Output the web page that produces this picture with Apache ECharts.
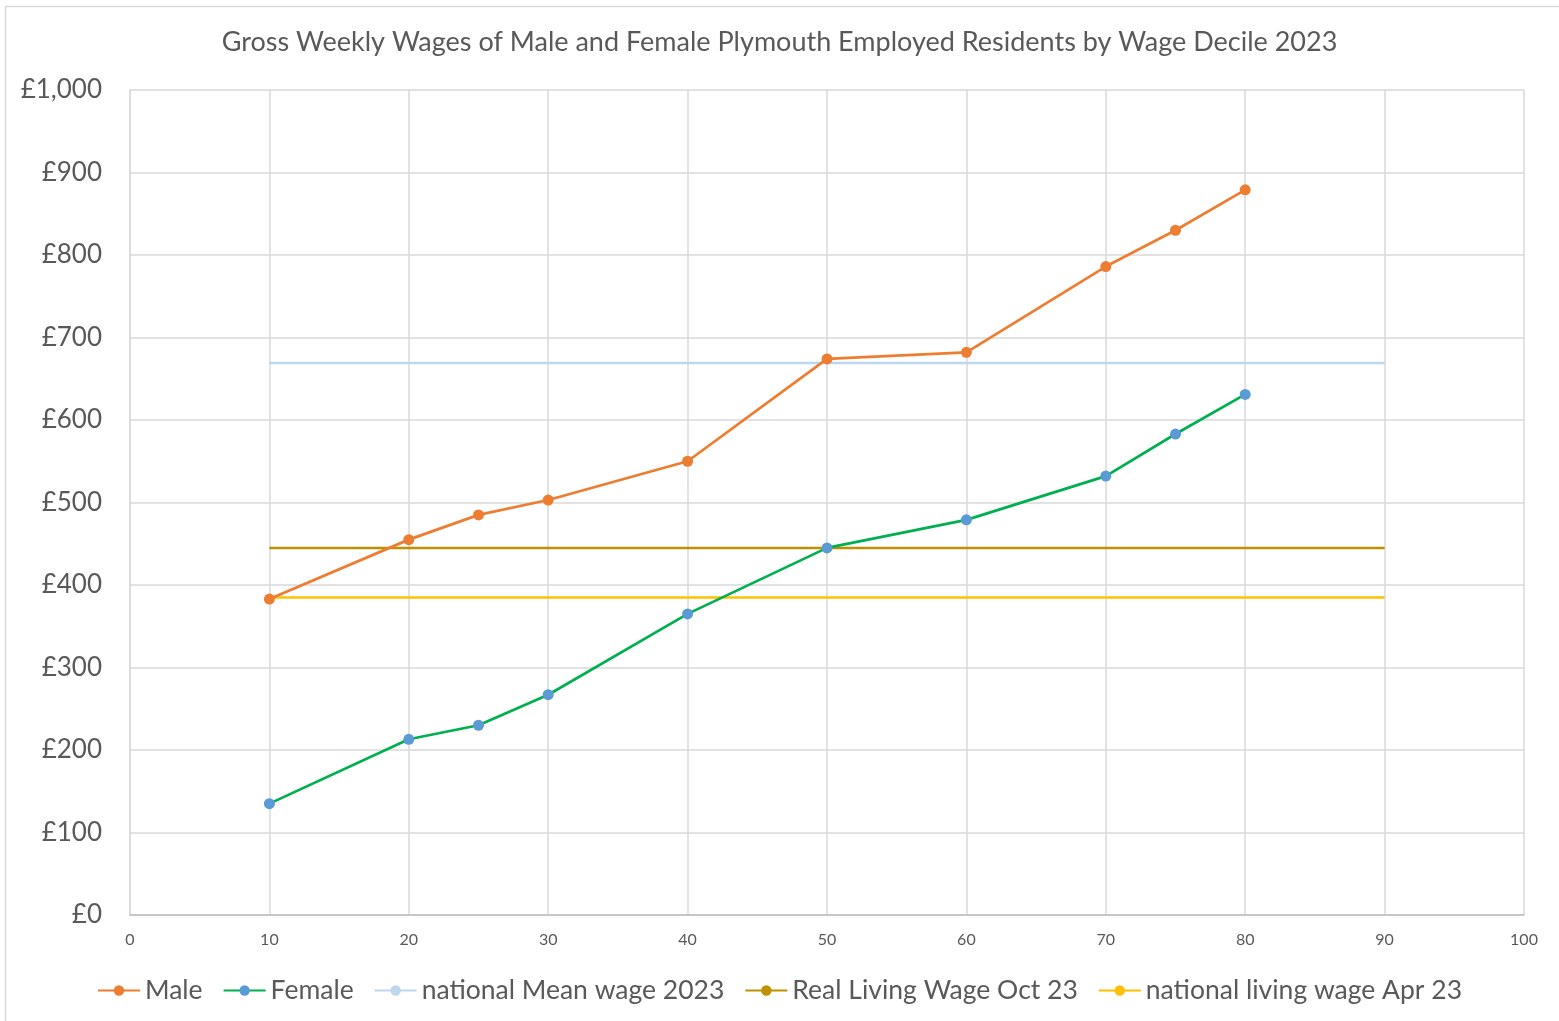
<!DOCTYPE html>
<html>
<head>
<meta charset="utf-8">
<script src="https://cdn.jsdelivr.net/npm/echarts@6/dist/echarts.min.js"></script>
<style>
html, body { margin: 0; padding: 0; background: #fff; }
#myChart { width: 1559px; height: 1021px; }
</style>
</head>
<body>
<div id="myChart"></div>
<script>
// deciles (x positions)
var deciles = [10, 20, 25, 30, 40, 50, 60, 70, 75, 80];
var maleWage = [383, 455, 485, 503, 550, 674, 682, 786, 830, 879];
var femaleWage = [135, 213, 230, 267, 365, 445, 479, 532, 583, 631];
// reference lines run from 10 to 90
var refSpan = [10, 90];
var nationalMean = 669;
var realLivingWage = 445;
var nationalLivingWage = 385;

function pairs(xs, ys) {
  return xs.map(function (x, i) { return [x, ys[i]]; });
}
function flat(v) {
  return refSpan.map(function (x) { return [x, v]; });
}

var font = 'Lato, "Open Sans", sans-serif';

var option = {
  animation: false,
  backgroundColor: '#fff',
  textStyle: { fontFamily: font },
  title: {
    text: 'Gross Weekly Wages of Male and Female Plymouth Employed Residents by Wage Decile 2023',
    left: 'center',
    top: 24,
    textStyle: { fontFamily: font, fontSize: 27, fontWeight: 'normal', color: '#595959' }
  },
  graphic: [{
    type: 'rect',
    shape: { x: 5.5, y: 6.5, width: 1560, height: 1030 },
    style: { fill: null, stroke: '#d9d9d9', lineWidth: 1.5 },
    silent: true
  }],
  grid: { left: 130, right: 35, top: 90, bottom: 106 },
  legend: {
    bottom: 12,
    left: 'center',
    itemWidth: 42,
    itemHeight: 13,
    itemGap: 20,
    textStyle: { fontFamily: font, fontSize: 26.5, color: '#595959' },
    data: ['Male', 'Female', 'national Mean wage 2023', 'Real Living Wage Oct 23', 'national living wage Apr 23']
  },
  xAxis: {
    type: 'value',
    min: 0, max: 100, interval: 10,
    axisLine: { show: true, lineStyle: { color: '#bfbfbf', width: 1.5 } },
    axisTick: { show: false },
    axisLabel: { color: '#595959', fontSize: 16, margin: 17 },
    splitLine: { show: true, lineStyle: { color: '#d9d9d9', width: 1.5 } }
  },
  yAxis: {
    type: 'value',
    min: 0, max: 1000, interval: 100,
    axisLine: { show: true, lineStyle: { color: '#d9d9d9', width: 1.5 } },
    axisTick: { show: false },
    axisLabel: {
      color: '#595959', fontSize: 26, margin: 28,
      formatter: function (v) { return '£' + v.toLocaleString('en-GB'); }
    },
    splitLine: { show: true, lineStyle: { color: '#d9d9d9', width: 1.5 } }
  },
  series: [
    {
      name: 'Male', type: 'line', data: pairs(deciles, maleWage),
      symbol: 'circle', symbolSize: 11, z: 5,
      lineStyle: { color: '#ED7D31', width: 2.75 },
      itemStyle: { color: '#ED7D31' }
    },
    {
      name: 'Female', type: 'line', data: pairs(deciles, femaleWage),
      symbol: 'circle', symbolSize: 11, z: 5,
      lineStyle: { color: '#00B050', width: 2.75 },
      itemStyle: { color: '#5B9BD5' }
    },
    {
      name: 'national Mean wage 2023', type: 'line', data: flat(nationalMean),
      symbol: 'none', z: 3,
      lineStyle: { color: '#BDD7EE', width: 2.5 },
      itemStyle: { color: '#BDD7EE' }
    },
    {
      name: 'Real Living Wage Oct 23', type: 'line', data: flat(realLivingWage),
      symbol: 'none', z: 3,
      lineStyle: { color: '#BF9000', width: 2.5 },
      itemStyle: { color: '#BF9000' }
    },
    {
      name: 'national living wage Apr 23', type: 'line', data: flat(nationalLivingWage),
      symbol: 'none', z: 3,
      lineStyle: { color: '#FFC000', width: 2.5 },
      itemStyle: { color: '#FFC000' }
    }
  ]
};

var myChart = echarts.init(document.getElementById('myChart'));
myChart.setOption(option);
</script>
</body>
</html>
